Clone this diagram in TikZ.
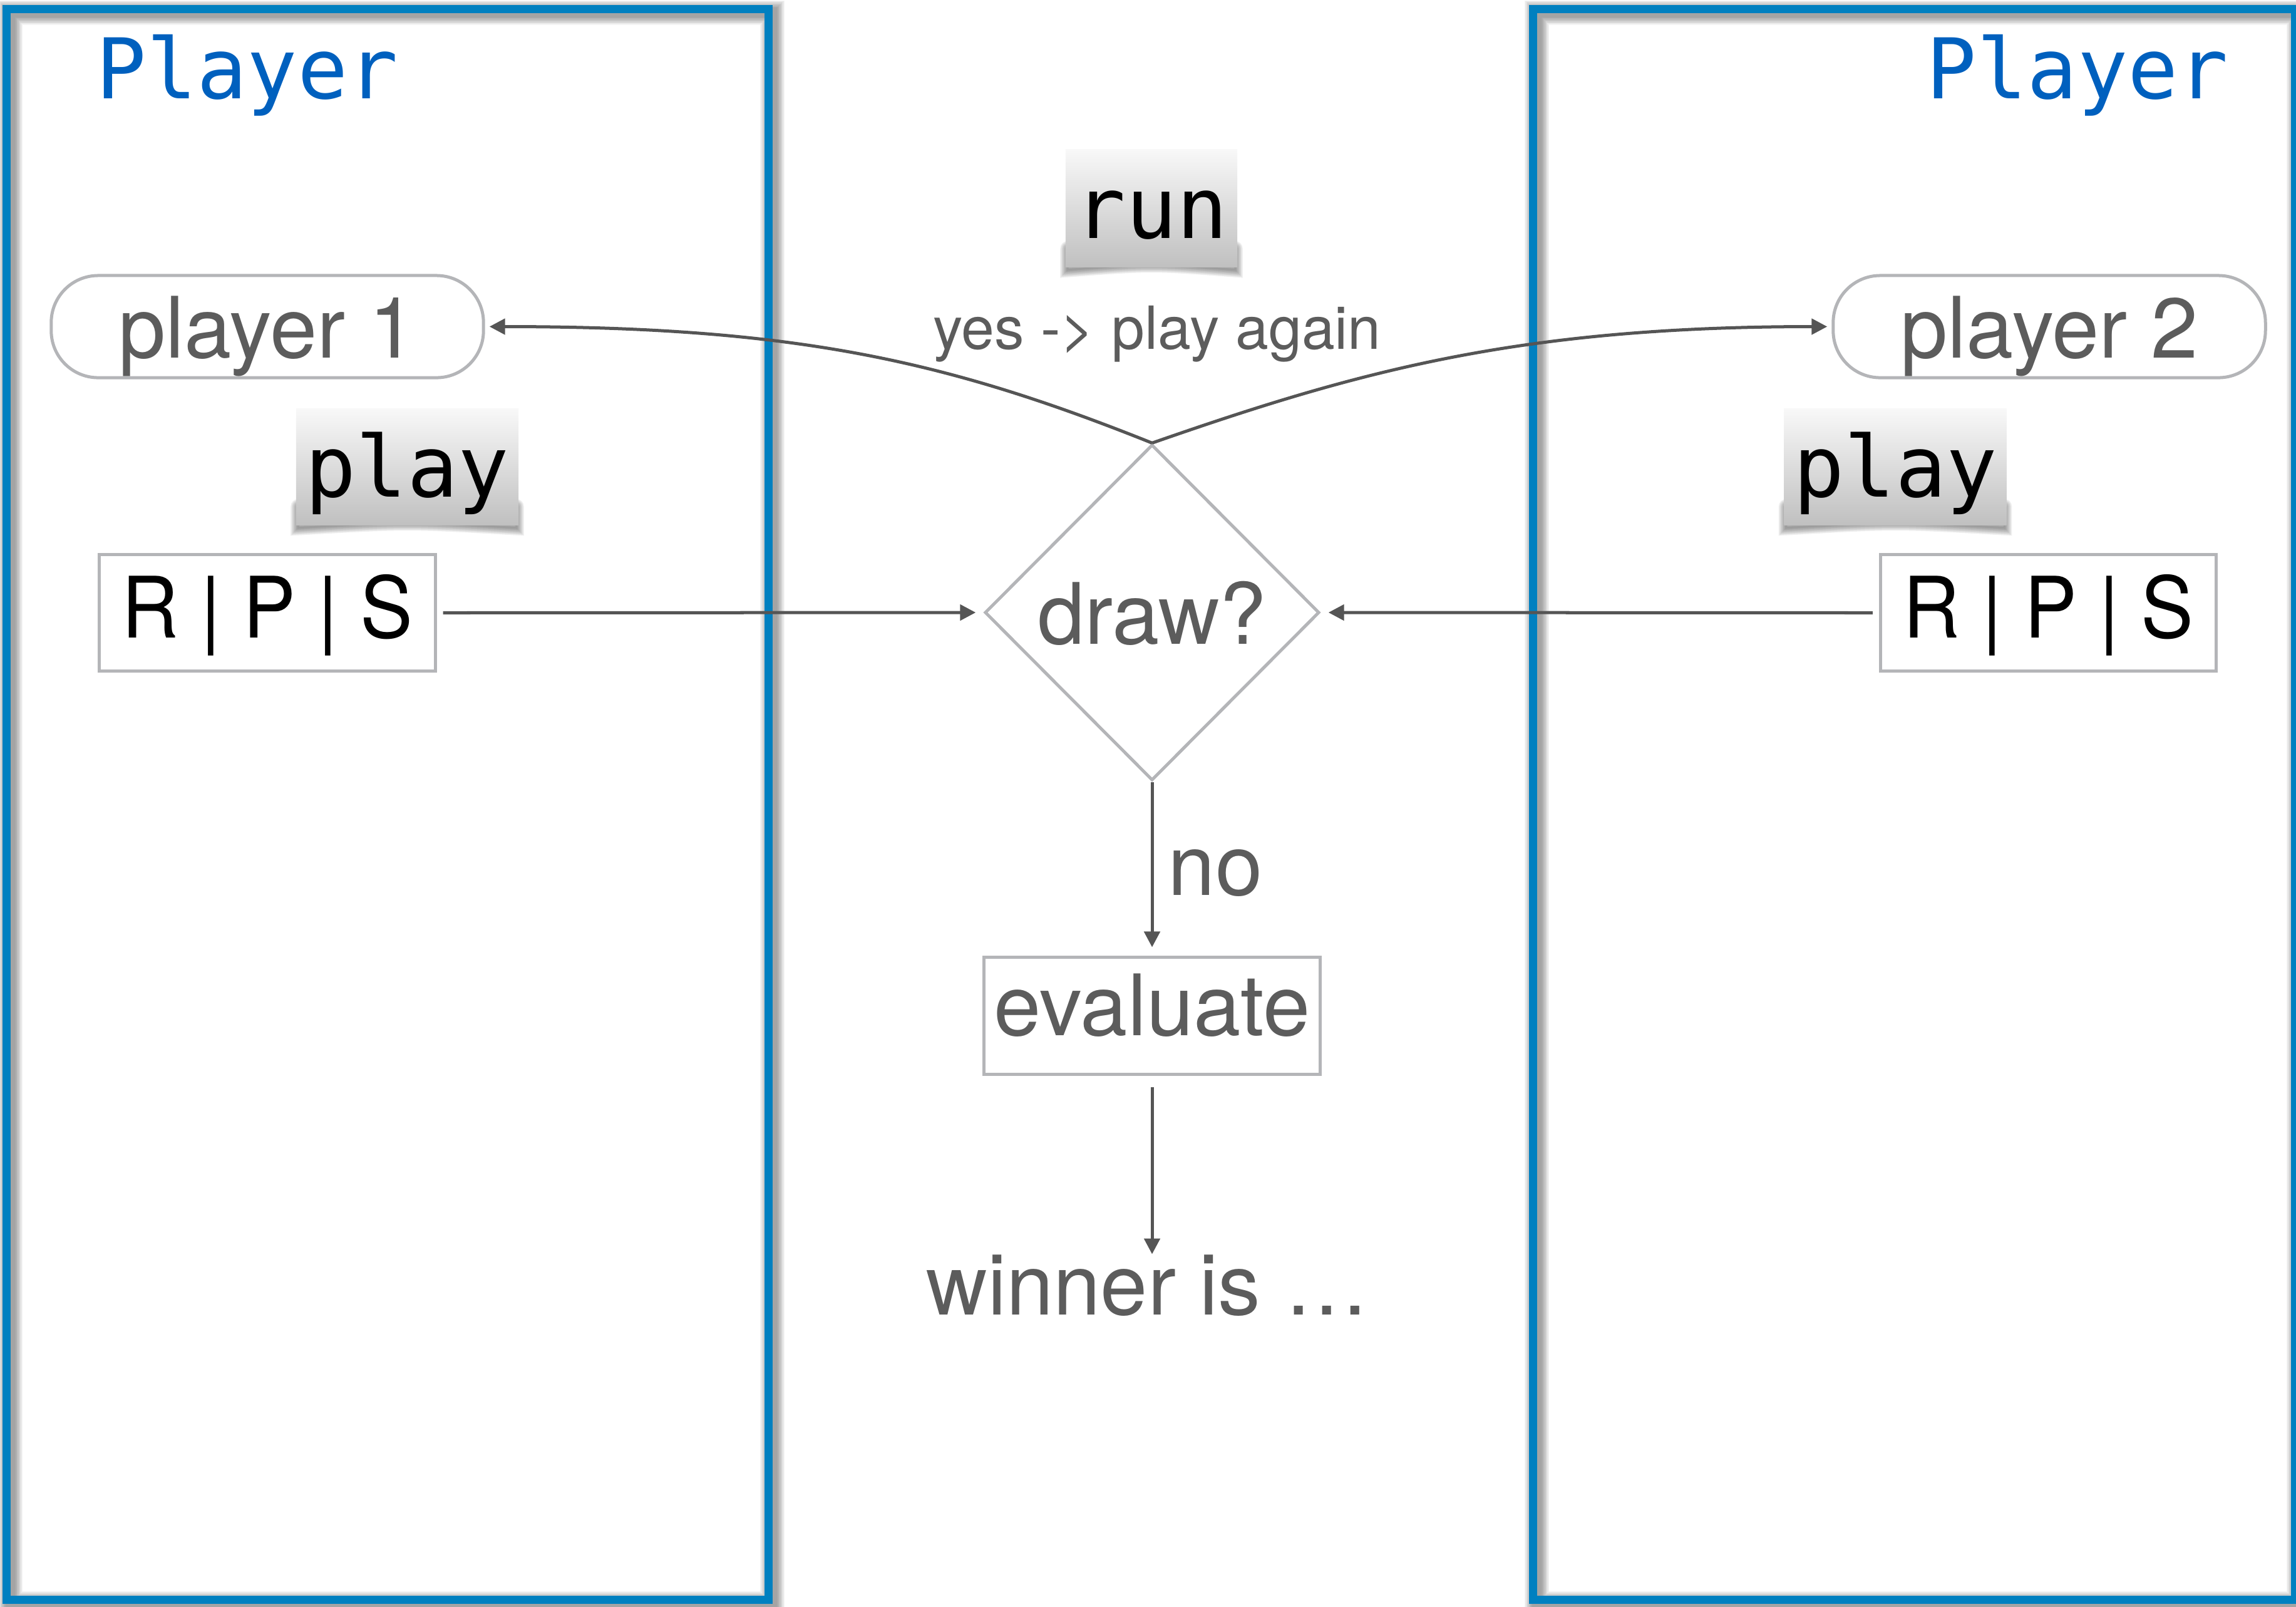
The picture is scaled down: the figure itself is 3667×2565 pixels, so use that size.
\documentclass[tikz,border=0pt]{standalone}
\usepackage{fontspec}
\setmainfont{TeX Gyre Heros}
\newfontfamily\narrowfont[FakeStretch=0.93]{TeX Gyre Heros}
\newfontfamily\monofont{DejaVu Sans Mono}
\usetikzlibrary{shapes.geometric,arrows.meta,backgrounds}

\definecolor{laneblue}{RGB}{0,128,192}
\definecolor{titleblue}{RGB}{0,96,190}
\definecolor{ink}{RGB}{92,92,92}
\definecolor{edgegrey}{RGB}{180,181,184}
\definecolor{wire}{RGB}{85,85,85}
\definecolor{tagtop}{RGB}{248,248,248}
\definecolor{tagbottom}{RGB}{192,192,192}

\tikzset{
  lane/.style={draw=laneblue, line width=0.13cm},
  laneshadow/.style={draw=black, opacity=0.045},
  title/.style={font=\monofont\fontsize{38}{46}\selectfont, text=titleblue, anchor=base, inner sep=0pt},
  tag/.style={font=\monofont\fontsize{38.5}{46}\selectfont, text=black,
    top color=tagtop, bottom color=tagbottom, inner sep=0pt,
    text height=1cm, text depth=0.05cm},
  pill/.style={draw=edgegrey, line width=0.05cm, rounded corners=0.75cm,
    minimum width=6.9cm, minimum height=1.63cm, inner sep=0pt,
    font=\fontsize{38.5}{46}\selectfont, text=ink, text height=1cm, text depth=0cm},
  choice/.style={draw=edgegrey, line width=0.05cm, minimum width=5.36cm, minimum height=1.85cm,
    inner sep=0pt, font=\narrowfont\fontsize{38.5}{46}\selectfont, text=black,
    text height=0.96cm, text depth=0.16cm},
  decide/.style={diamond, aspect=1, draw=edgegrey, line width=0.05cm,
    minimum width=5.34cm, minimum height=5.36cm, inner sep=0pt,
    font=\fontsize{38.5}{46}\selectfont, text=ink, text height=1cm, text depth=0cm},
  stepbox/.style={draw=edgegrey, line width=0.05cm, minimum width=5.36cm, minimum height=1.86cm,
    inner sep=0pt, font=\fontsize{38.5}{46}\selectfont, text=ink,
    text height=1cm, text depth=0.38cm},
  plaintext/.style={font=\fontsize{38.5}{46}\selectfont, text=ink, inner sep=0pt},
  smalltext/.style={font=\fontsize{27}{33}\selectfont, text=ink, inner sep=0pt},
  conn/.style={draw=wire, line width=0.05cm, -{Triangle[length=0.25cm,width=0.25cm]}},
}

% soft curled shadow under a labelled tab
\newcommand{\curlshadow}[1]{%
  \foreach \k in {1,...,8}
    \draw[black, opacity=0.06, line width={\k*0.03cm}, line cap=round]
      ([shift={(4,-30)}]#1.south west) -- ([shift={(4,4)}]#1.south west)
      .. controls ([shift={(0,-6)}]#1.south) and ([shift={(0,-6)}]#1.south)
      .. ([shift={(-4,4)}]#1.south east) -- ([shift={(-4,-30)}]#1.south east);
}

\begin{document}
\begin{tikzpicture}[x=0.01cm, y=-0.01cm]
  \useasboundingbox (0,0) rectangle (3667,2565);

  % player lanes with their soft shadow
  \foreach \k in {1,...,10} {
    \draw[laneshadow, line width={0.13cm+\k*0.026cm}] (16.5,20) rectangle (1233.5,2560.5);
    \draw[laneshadow, line width={0.13cm+\k*0.026cm}] (2454.5,20) rectangle (3671.5,2560.5);
  }
  \draw[lane] (10.5,14) rectangle (1227.5,2554.5);
  \draw[lane] (2448.5,14) rectangle (3665.5,2554.5);

  \node[title] (t1) at (395,157) {Player};
  \node[title] (t2) at (3318,157) {Player};

  % method tabs
  \node[tag, minimum width=2.74cm, minimum height=1.87cm] (run) at (1839,332.5) {run};
  \node[tag, minimum width=3.55cm, minimum height=1.85cm] (play1) at (650.5,745.5) {play};
  \node[tag, minimum width=3.55cm, minimum height=1.85cm] (play2) at (3027,745.5) {play};

  % players and their choices
  \node[pill] (p1) at (427,521.5) {player 1};
  \node[pill] (p2) at (3273,521.5) {player 2};
  \node[choice] (rps1) at (427,978.5) {R | P | S};
  \node[choice] (rps2) at (3271.5,978.5) {R | P | S};

  % game flow
  \node[decide] (dia) at (1840,978) {draw?};
  \node[stepbox] (ev) at (1840,1622) {evaluate};
  \node[plaintext, anchor=base] (win) at (1833,2099) {winner is …};
  \node[smalltext, anchor=base] (yes) at (1848,557) {yes -> play again};
  \node[plaintext, anchor=base west] (no) at (1865,1429) {no};

  \begin{pgfonlayer}{background}
    \curlshadow{run}
    \curlshadow{play1}
    \curlshadow{play2}
  \end{pgfonlayer}

  \draw[conn, shorten <=0.1cm, shorten >=0.12cm] (rps1.east) -- (dia.west);
  \draw[conn, shorten <=0.1cm, shorten >=0.12cm] (rps2.west) -- (dia.east);
  \draw[conn, shorten >=0.14cm] (dia.south) -- (ev.north);
  \draw[conn, shorten <=0.18cm] (ev.south) -- (ev.south |- win.north);
  \draw[conn, shorten >=0.07cm] (dia.north) .. controls +(-325,-130) and +(500,0) .. (p1.east);
  \draw[conn, shorten >=0.07cm] (dia.north) .. controls +(330,-115) and +(-500,0) .. (p2.west);
\end{tikzpicture}
\end{document}
